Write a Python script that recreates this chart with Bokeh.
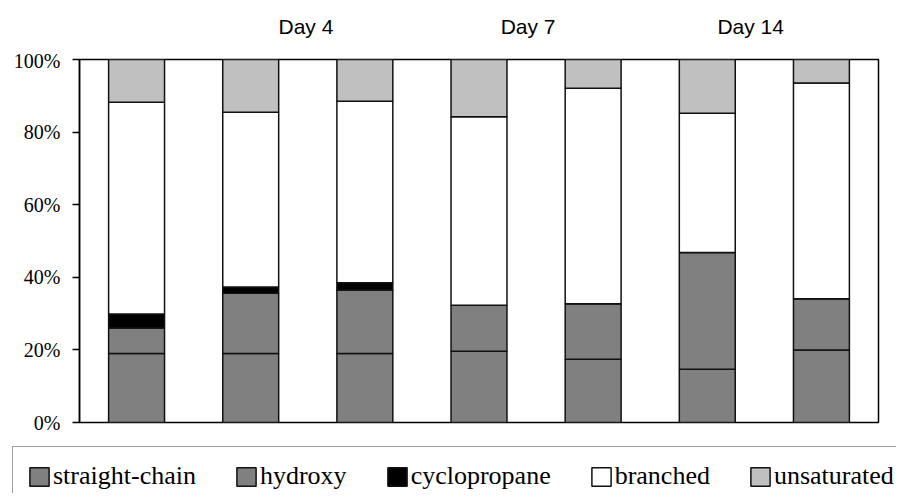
from bokeh.plotting import figure
from bokeh.layouts import column
from bokeh.models import (FactorRange, Range1d, FixedTicker, PrintfTickFormatter,
                          Legend, LegendItem, ColumnDataSource)
from bokeh.core.properties import value
from bokeh.embed import file_html
from bokeh.resources import INLINE

# ---- data (percent of total fatty acids) ----
samples = ["1", "2", "3", "4", "5", "6", "7"]
series = ["straight-chain", "hydroxy", "cyclopropane", "branched", "unsaturated"]
straight_chain = [19.0, 19.0, 19.0, 19.6, 17.4, 14.7, 20.0]
hydroxy = [7.0, 16.6, 17.5, 12.7, 15.3, 32.1, 14.1]
cyclopropane = [3.9, 1.7, 2.0, 0.0, 0.0, 0.0, 0.0]
branched = [58.3, 48.2, 50.0, 51.9, 59.4, 38.4, 59.4]
unsaturated = [11.8, 14.5, 11.5, 15.8, 7.9, 14.8, 6.5]
colors = ["#808080", "#808080", "#000000", "#ffffff", "#c0c0c0"]
day_labels = ["Day 4", "Day 7", "Day 14"]
y_ticks = [0, 20, 40, 60, 80, 100]

# layout: positions of the day labels on the category axis (synthetic coords)
day_label_x = [1.984, 3.93, 5.88]

W = 896
LEFT, RIGHT = 79, 18

source = ColumnDataSource(dict(
    sample=samples,
    **{"straight-chain": straight_chain, "hydroxy": hydroxy,
       "cyclopropane": cyclopropane, "branched": branched,
       "unsaturated": unsaturated}))

xr = FactorRange(*samples, range_padding=0)

# ---- top strip with the day labels ----
TOP_H = 49
top = figure(x_range=xr, y_range=Range1d(0, TOP_H), width=W, height=TOP_H,
             output_backend="svg", toolbar_location=None,
             min_border_left=LEFT, min_border_right=RIGHT,
             min_border_top=0, min_border_bottom=0)
top.axis.visible = False
top.grid.visible = False
top.outline_line_color = None
top.text(x=day_label_x, y=[TOP_H - 26] * len(day_labels), text=day_labels,
         text_align="center", text_baseline="middle",
         text_font=value("Liberation Sans"), text_font_size="21px",
         text_color="black")

# ---- main chart ----
p = figure(x_range=xr, y_range=Range1d(0, 100),
           width=W, height=385, output_backend="svg", toolbar_location=None,
           min_border_left=LEFT, min_border_right=RIGHT, min_border_top=10,
           min_border_bottom=12)

renderers = p.vbar_stack(series, x="sample", width=0.49, source=source,
                         fill_color=colors, line_color="#111111", line_width=1.5)

p.xgrid.visible = False
p.ygrid.visible = False
p.xaxis.visible = False

ax = p.yaxis[0]
ax.ticker = FixedTicker(ticks=y_ticks)
ax.formatter = PrintfTickFormatter(format="%d%%")
ax.axis_line_color = "black"
ax.axis_line_width = 1.5
ax.major_tick_line_color = "black"
ax.major_tick_line_width = 1.5
ax.major_tick_out = 7
ax.major_tick_in = 0
ax.minor_tick_line_color = None
ax.major_label_text_font = "Liberation Serif"
ax.major_label_text_font_size = "20px"
ax.major_label_text_color = "black"
ax.major_label_standoff = 12

p.outline_line_color = "black"
p.outline_line_width = 1.5
p.background_fill_color = "white"
p.border_fill_color = "white"

# ---- bottom strip with the legend (its own frame spans the whole strip) ----
BOT_H = 59
bot = figure(x_range=FactorRange(*samples, range_padding=0),
             y_range=Range1d(1000, 1001), width=W, height=BOT_H,
             output_backend="svg", toolbar_location=None,
             min_border_left=0, min_border_right=0, min_border_top=0,
             min_border_bottom=0)
bot.frame_align = False
bot.axis.visible = False
bot.grid.visible = False
bot.outline_line_color = None
# same stacked bars (outside this strip's visible range) supply the legend swatches
legend_renderers = bot.vbar_stack(series, x="sample", width=0.49, source=source,
                                  fill_color=colors, line_color="#111111",
                                  line_width=1.5)
legend = Legend(items=[LegendItem(label=s, renderers=[r])
                       for s, r in zip(series, legend_renderers)],
                orientation="horizontal", location=(12, -13),
                glyph_width=24, glyph_height=23, label_standoff=2, spacing=38,
                padding=14, margin=0,
                label_text_font="Liberation Serif", label_text_font_size="26px",
                label_text_color="black",
                border_line_color="#404040", border_line_width=1.5,
                background_fill_color="white", background_fill_alpha=1.0)
bot.add_layout(legend, "center")

layout = column(top, p, bot, spacing=0)
open("out.html", "w").write(file_html(layout, INLINE))
